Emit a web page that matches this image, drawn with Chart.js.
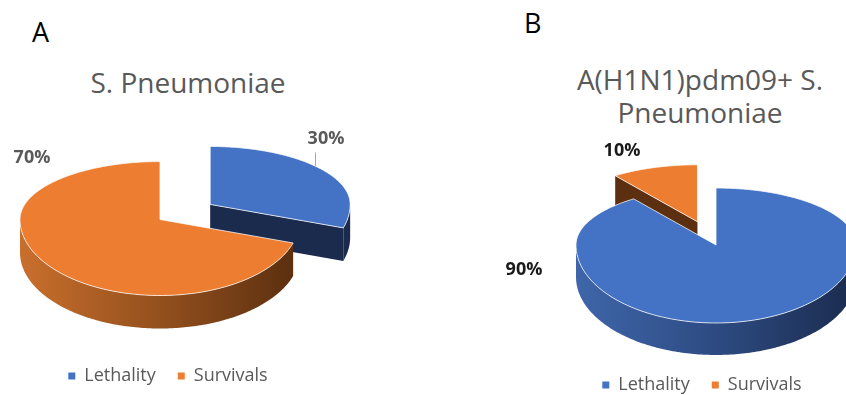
<!DOCTYPE html>
<html>
<head>
<meta charset="utf-8">
<script src="https://cdn.jsdelivr.net/npm/chart.js@4.4.1/dist/chart.umd.min.js"></script>
<style>
  html, body { margin: 0; padding: 0; background: #fff; }
  body { width: 846px; height: 395px; overflow: hidden; position: relative; font-family: 'Open Sans', sans-serif; }
  .panel { position: absolute; font-size: 27px; line-height: 32px; color: #000; }
  .title { position: absolute; width: 300px; font-size: 28px; line-height: 33px; color: #595959; text-align: center; white-space: nowrap; }
  .box { position: absolute; top: 0; }
</style>
</head>
<body>
<div class="panel" style="left:32px; top:16px">A</div>
<div class="panel" style="left:524px; top:7px">B</div>
<div class="title" id="titleA" style="left:38px; top:66px"></div>
<div class="title" id="titleB" style="left:550px; top:63px"></div>
<div class="box" style="left:-32px; width:400px; height:395px"><canvas id="pieA"></canvas></div>
<div class="box" style="left:480px; width:444px; height:404px"><canvas id="pieB"></canvas></div>

<script>
// ---- data ----
const categories = ['Lethality', 'Survivals'];
const pneumoniaeOnly = [30, 70];        // S. Pneumoniae
const coinfection = [90, 10];           // A(H1N1)pdm09 + S. Pneumoniae
const chartTitles = [['S. Pneumoniae'], ['A(H1N1)pdm09+ S.', 'Pneumoniae']];

// ---- styling ----
const sliceColors = ['#4472C4', '#ED7D31'];
const sliceShades = [
  { wall: ['#3f66aa', '#2d4b82', '#1b2b4e'], cut: '#1b2b4e' },
  { wall: ['#c96f2d', '#93501d', '#5a2e0f'], cut: '#5b2f10' }
];

document.getElementById('titleA').innerHTML = chartTitles[0].join('<br>');
document.getElementById('titleB').innerHTML = chartTitles[1].join('<br>');

Chart.defaults.font.family = "'Open Sans', sans-serif";

// Empty layout box that narrows the chart area on one side only,
// so the pie centre can sit apart from the centred legend.
function gutter(side, size) {
  return {
    id: 'gutter',
    beforeInit(chart) {
      Chart.layouts.addBox(chart, {
        position: side, weight: 50, fullSize: false, options: {},
        left: 0, top: 0, right: 0, bottom: 0, width: 0, height: 0,
        isHorizontal() { return false; },
        update(maxWidth, maxHeight) { this.width = size; this.height = maxHeight; },
        draw() {}
      });
    }
  };
}

// Draws the pie's arc elements as a tilted, extruded disc with exploded slices.
function pie3d(style) {
  return {
    id: 'pie3d',
    beforeDatasetsDraw(chart) {
      const ctx = chart.ctx;
      const arcs = chart.getDatasetMeta(0).data;
      const values = chart.data.datasets[0].data;
      const total = values.reduce((s, v) => s + v, 0);
      const { tiltTop, tiltBottom, depth } = style;

      const proj = (ox, oy, ang, r, z) => {
        const s = Math.sin(ang);
        return [ox + r * Math.cos(ang), oy + r * s * (s < 0 ? tiltTop : tiltBottom) + z];
      };
      const arcPath = (ox, oy, a, b, r, z, first) => {
        const n = Math.max(2, Math.ceil(Math.abs(b - a) * 180 / Math.PI));
        for (let j = 0; j <= n; j++) {
          const [x, y] = proj(ox, oy, a + (b - a) * j / n, r, z);
          if (j === 0 && first) ctx.moveTo(x, y); else ctx.lineTo(x, y);
        }
      };

      const slices = arcs.map((arc, i) => {
        const p = arc.getProps(['x', 'y', 'startAngle', 'endAngle', 'outerRadius'], true);
        const mid = (p.startAngle + p.endAngle) / 2;
        const [ax, ay] = proj(p.x, p.y, mid, arc.options.offset || 0, 0);
        return { i, cx: p.x, cy: p.y, a0: p.startAngle, a1: p.endAngle, r: p.outerRadius, mid, ax, ay };
      });
      const order = slices.slice().sort((s, t) => s.ay - t.ay);

      ctx.save();
      ctx.lineJoin = 'round';
      order.forEach(s => {
        const sh = sliceShades[s.i];
        // outer wall, front half only
        const ws = Math.max(s.a0, 0), we = Math.min(s.a1, Math.PI);
        if (we > ws) {
          const g = ctx.createLinearGradient(s.cx - s.r, 0, s.cx + s.r, 0);
          sh.wall.forEach((c, k) => g.addColorStop(k / (sh.wall.length - 1), c));
          ctx.beginPath();
          arcPath(s.ax, s.ay, ws, we, s.r, 0, true);
          arcPath(s.ax, s.ay, we, ws, s.r, depth, false);
          ctx.closePath();
          ctx.fillStyle = g;
          ctx.fill();
        }
        // radial cut faces that turn towards the viewer
        [[s.a0, Math.cos(s.a0) < -1e-6], [s.a1, Math.cos(s.a1) > 1e-6]].forEach(([a, show]) => {
          if (!show) return;
          const [ex, ey] = proj(s.ax, s.ay, a, s.r, 0);
          ctx.beginPath();
          ctx.moveTo(s.ax, s.ay);
          ctx.lineTo(ex, ey);
          ctx.lineTo(ex, ey + depth);
          ctx.lineTo(s.ax, s.ay + depth);
          ctx.closePath();
          ctx.fillStyle = sh.cut;
          ctx.fill();
        });
        // top face
        ctx.beginPath();
        ctx.moveTo(s.ax, s.ay);
        arcPath(s.ax, s.ay, s.a0, s.a1, s.r, 0, false);
        ctx.closePath();
        ctx.fillStyle = arcs[s.i].options.backgroundColor;
        ctx.fill();
        ctx.strokeStyle = 'rgba(255,255,255,0.75)';
        ctx.lineWidth = 1;
        ctx.stroke();
      });

      // percentage labels
      ctx.font = "bold 18px 'Open Sans', sans-serif";
      ctx.textAlign = 'center';
      ctx.textBaseline = 'middle';
      slices.forEach(s => {
        const L = style.labels[s.i];
        const x = s.cx + L.dx, y = s.cy + L.dy;
        ctx.fillStyle = style.labelColor;
        ctx.fillText(Math.round(values[s.i] / total * 100) + '%', x, y);
        if (L.leader) {
          const [rx, ry] = proj(s.ax, s.ay, s.mid - 0.1, s.r, 0);
          ctx.strokeStyle = '#a6a6a6';
          ctx.lineWidth = 1;
          ctx.beginPath();
          ctx.moveTo(Math.round(rx) + 0.5, y + 14);
          ctx.lineTo(Math.round(rx) + 0.5, ry);
          ctx.stroke();
        }
      });
      ctx.restore();
      return false;
    }
  };
}

function makePie(id, values, cfg) {
  return new Chart(document.getElementById(id), {
    type: 'pie',
    data: {
      labels: categories,
      datasets: [{
        data: values,
        backgroundColor: sliceColors,
        borderWidth: 0,
        radius: 140,
        offset: cfg.offset
      }]
    },
    options: {
      responsive: true,
      maintainAspectRatio: false,
      animation: false,
      events: [],
      rotation: 0,
      layout: { padding: { top: cfg.top } },
      plugins: {
        tooltip: { enabled: false },
        legend: {
          position: 'bottom',
          fullSize: true,
          labels: {
            boxWidth: 7,
            boxHeight: 7,
            padding: 22,
            color: '#595959',
            font: { size: 18 }
          }
        }
      }
    },
    plugins: [gutter(cfg.side, cfg.gutter), pie3d(cfg.look)]
  });
}

makePie('pieA', pneumoniaeOnly, {
  offset: [62, 0], top: 94, side: 'right', gutter: 16,
  look: {
    tiltTop: 0.414, tiltBottom: 0.543, depth: 33, labelColor: '#595959',
    labels: [{ dx: 166, dy: -81, leader: true }, { dx: -128, dy: -62 }]
  }
});

makePie('pieB', coinfection, {
  offset: [0, 60], top: 136, side: 'left', gutter: 28,
  look: {
    tiltTop: 0.407, tiltBottom: 0.557, depth: 32, labelColor: '#1a1a1a',
    labels: [{ dx: -192, dy: 25 }, { dx: -94, dy: -94 }]
  }
});
</script>
</body>
</html>
